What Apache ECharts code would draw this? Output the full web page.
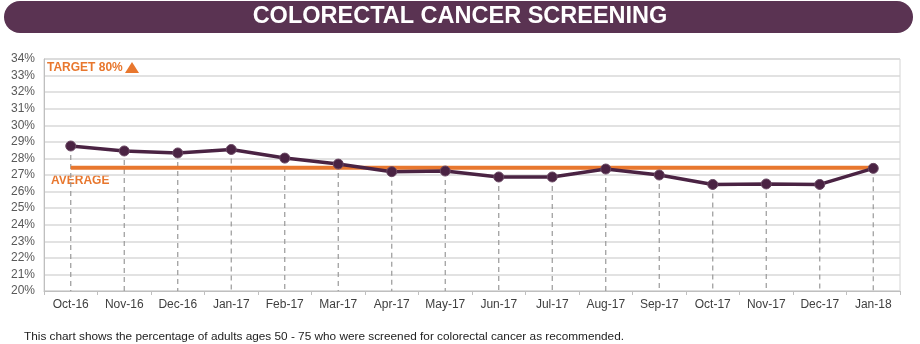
<!DOCTYPE html>
<html>
<head>
<meta charset="utf-8">
<script src="https://cdn.jsdelivr.net/npm/echarts@6/dist/echarts.min.js"></script>
<style>
  html, body { margin: 0; padding: 0; background: #fff; }
  #chart { width: 920px; height: 344px; }
</style>
</head>
<body>
<div id="chart"></div>
<script>
// Monthly screening rate (%) for adults 50-75
const months = ['Oct-16','Nov-16','Dec-16','Jan-17','Feb-17','Mar-17','Apr-17','May-17',
                'Jun-17','Jul-17','Aug-17','Sep-17','Oct-17','Nov-17','Dec-17','Jan-18'];
const screeningRate = [28.75, 28.45, 28.33, 28.54, 28.02, 27.66, 27.20, 27.24,
                       26.88, 26.88, 27.36, 27.00, 26.43, 26.46, 26.43, 27.40];
const averageRate = 27.44;
const yTicks = { min: 20, max: 34, step: 1 };

const titleText = 'COLORECTAL CANCER SCREENING';
const targetText = 'TARGET 80%';
const averageText = 'AVERAGE';
const noteText = 'This chart shows the percentage of adults ages 50 - 75 who were screened for colorectal cancer as recommended.';

const purple = '#4a2343';
const orange = '#e8772e';
const fontFamily = '"Liberation Sans", Arial, sans-serif';

const chart = echarts.init(document.getElementById('chart'), null, { renderer: 'canvas' });

chart.setOption({
  animation: false,
  graphic: [
    {
      type: 'rect',
      shape: { x: 4, y: 1, width: 909, height: 32, r: 16 },
      style: { fill: '#5a3352' }
    },
    {
      type: 'text',
      x: 460, y: 17,
      style: {
        text: titleText, fill: '#fff',
        font: 'bold 23.5px ' + fontFamily,
        align: 'center', verticalAlign: 'middle'
      }
    },
    {
      type: 'text',
      x: 47, y: 68,
      style: {
        text: targetText, fill: orange,
        font: 'bold 12px ' + fontFamily,
        verticalAlign: 'middle'
      }
    },
    {
      type: 'polygon',
      shape: { points: [[125, 73], [132, 62], [139, 73]] },
      style: { fill: orange }
    },
    {
      type: 'text',
      x: 51, y: 181,
      style: {
        text: averageText, fill: orange,
        font: 'bold 12px ' + fontFamily,
        verticalAlign: 'middle'
      }
    },
    {
      type: 'text',
      x: 24, y: 337,
      style: {
        text: noteText, fill: '#222',
        font: '11.8px ' + fontFamily,
        verticalAlign: 'middle'
      }
    }
  ],
  grid: {
    left: 44, right: 20, top: 59, bottom: 53,
    show: true, borderColor: '#d4d4d4', borderWidth: 1
  },
  xAxis: {
    type: 'category',
    data: months,
    boundaryGap: true,
    axisLine: { lineStyle: { color: '#bfbfbf', width: 1 } },
    axisTick: { show: true, length: 4, lineStyle: { color: '#bfbfbf' } },
    axisLabel: { color: '#404040', fontSize: 12, margin: 8, fontFamily: fontFamily },
    splitLine: { show: false }
  },
  yAxis: {
    type: 'value',
    min: yTicks.min, max: yTicks.max, interval: yTicks.step,
    axisLine: { show: true, lineStyle: { color: '#bfbfbf' } },
    axisTick: { show: false },
    axisLabel: { color: '#595959', fontSize: 12, margin: 9, formatter: '{value}%', fontFamily: fontFamily },
    splitLine: { lineStyle: { color: '#d9d9d9', width: 1.5 } }
  },
  series: [
    {
      // dashed drop lines from each monthly value down to the axis
      type: 'custom',
      z: 1,
      data: screeningRate.map((v, i) => [i, v]),
      renderItem: function (params, api) {
        const top = api.coord([api.value(0), api.value(1)]);
        const bottom = api.coord([api.value(0), yTicks.min]);
        return {
          type: 'line',
          shape: { x1: top[0], y1: top[1], x2: bottom[0], y2: bottom[1] },
          style: { stroke: '#999', lineWidth: 1.2, lineDash: [5, 4] }
        };
      }
    },
    {
      name: 'Average',
      type: 'line',
      z: 2,
      data: months.map(() => averageRate),
      symbol: 'none',
      lineStyle: { color: orange, width: 4 }
    },
    {
      name: 'Screening',
      type: 'line',
      z: 3,
      data: screeningRate,
      symbol: 'circle',
      symbolSize: 10,
      itemStyle: { color: purple, borderColor: '#6b4a64', borderWidth: 1 },
      lineStyle: { color: purple, width: 3.5 }
    }
  ]
});
</script>
</body>
</html>
